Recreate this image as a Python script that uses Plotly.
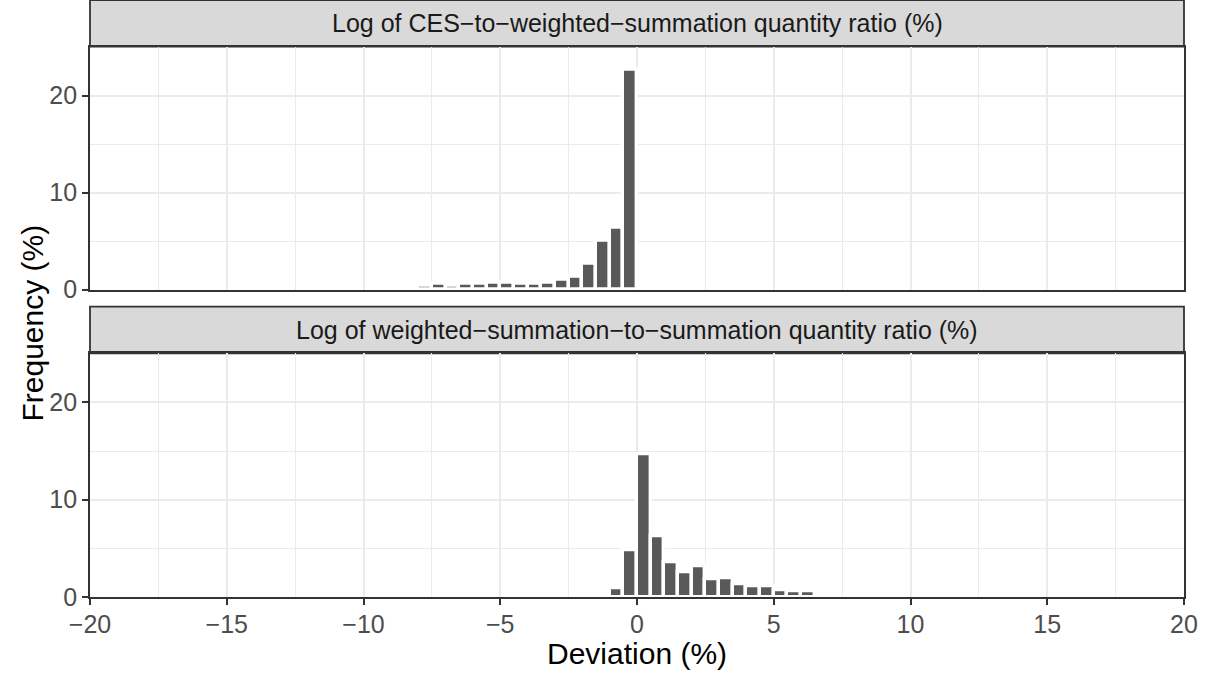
import plotly.graph_objects as go

# ---- data ----
top_title = "Log of CES−to−weighted−summation quantity ratio (%)"
bottom_title = "Log of weighted−summation−to−summation quantity ratio (%)"

top_bin_centers = [-8.25, -7.75, -7.25, -6.75, -6.25, -5.75, -5.25, -4.75, -4.25,
                   -3.75, -3.25, -2.75, -2.25, -1.75, -1.25, -0.75, -0.25]
top_freq = [0.34, 0.44, 0.55, 0.44, 0.55, 0.55, 0.74, 0.74, 0.58,
            0.65, 0.74, 1.05, 1.33, 2.66, 5.07, 6.38, 22.65]

bottom_bin_centers = [-0.75, -0.25, 0.25, 0.75, 1.25, 1.75, 2.25, 2.75, 3.25,
                      3.75, 4.25, 4.75, 5.25, 5.75, 6.25]
bottom_freq = [0.93, 4.80, 14.66, 6.26, 3.60, 2.58, 3.12, 1.79, 1.93,
               1.32, 1.05, 1.05, 0.70, 0.60, 0.60]

bin_width = 0.5
x_ticks = [-20, -15, -10, -5, 0, 5, 10, 15, 20]
y_ticks = [0, 10, 20]

# ---- style ----
FONT = "Liberation Sans, Arial, Helvetica, sans-serif"
BAR = "#595959"
DARK = "#333333"
GRID = "#EBEBEB"
TICKTXT = "#4D4D4D"
STRIP = "#D9D9D9"

fig = go.Figure()
bar_style = dict(color=BAR, line=dict(color="white", width=3.4))
fig.add_trace(go.Bar(x=top_bin_centers, y=top_freq, width=bin_width,
                     marker=bar_style, xaxis="x", yaxis="y", showlegend=False))
fig.add_trace(go.Bar(x=bottom_bin_centers, y=bottom_freq, width=bin_width,
                     marker=bar_style, xaxis="x2", yaxis="y2", showlegend=False))

H_PLOT = 597.0
top_dom = [(H_PLOT - 289.5) / H_PLOT, (H_PLOT - 46.7) / H_PLOT]
bot_dom = [0.0, (H_PLOT - 353.3) / H_PLOT]
bot_strip = [(H_PLOT - 353.3) / H_PLOT, (H_PLOT - 306.7) / H_PLOT]
top_strip = [top_dom[1], 1.0]

common_x = dict(range=[-20, 20], tickvals=x_ticks, showgrid=True, gridcolor=GRID,
                gridwidth=2, zeroline=False, showline=True, mirror=True,
                linecolor=DARK, linewidth=1.8,
                minor=dict(dtick=2.5, tick0=0, showgrid=True, gridcolor=GRID, gridwidth=1),
                tickfont=dict(family=FONT, size=25, color=TICKTXT))
common_y = dict(range=[0, 25.05], tickvals=y_ticks, showgrid=True, gridcolor=GRID,
                gridwidth=2, zeroline=False, showline=True, mirror=True,
                linecolor=DARK, linewidth=1.8, ticks="outside", ticklen=6,
                tickwidth=1.8, tickcolor=DARK,
                minor=dict(dtick=5, tick0=0, showgrid=True, gridcolor=GRID, gridwidth=1),
                tickfont=dict(family=FONT, size=25, color=TICKTXT))

fig.update_layout(
    width=1215, height=677,
    margin=dict(l=90, r=31, t=0, b=80),
    paper_bgcolor="white", plot_bgcolor="white",
    bargap=0,
    xaxis=dict(common_x, anchor="y", showticklabels=False, ticks=""),
    yaxis=dict(common_y, anchor="x", domain=top_dom),
    xaxis2=dict(common_x, anchor="y2", matches="x", ticks="outside", ticklen=6,
                tickwidth=1.8, tickcolor=DARK, ticklabelstandoff=-2),
    yaxis2=dict(common_y, anchor="x2", domain=bot_dom),
)

# facet strips
for dom, txt in [(top_strip, top_title), (bot_strip, bottom_title)]:
    fig.add_shape(type="rect", xref="paper", yref="paper", x0=0, x1=1, y0=dom[0], y1=dom[1],
                  fillcolor=STRIP, line=dict(color=DARK, width=1.8), layer="below")
    fig.add_annotation(xref="paper", yref="paper", x=0.5, y=(dom[0] + dom[1]) / 2,
                       text=txt, showarrow=False, xanchor="center", yanchor="middle",
                       font=dict(family=FONT, size=25, color="#1A1A1A"))

# axis titles
fig.add_annotation(xref="paper", yref="paper", x=0.5, y=0, yshift=-56,
                   text="Deviation (%)", showarrow=False, xanchor="center", yanchor="middle",
                   font=dict(family=FONT, size=30, color="black"))
fig.add_annotation(xref="paper", yref="paper", x=0, xshift=-58, y=(H_PLOT - 323.5) / H_PLOT,
                   text="Frequency (%)", showarrow=False, textangle=-90,
                   xanchor="center", yanchor="middle",
                   font=dict(family=FONT, size=30, color="black"))

fig.write_html("out.html")
